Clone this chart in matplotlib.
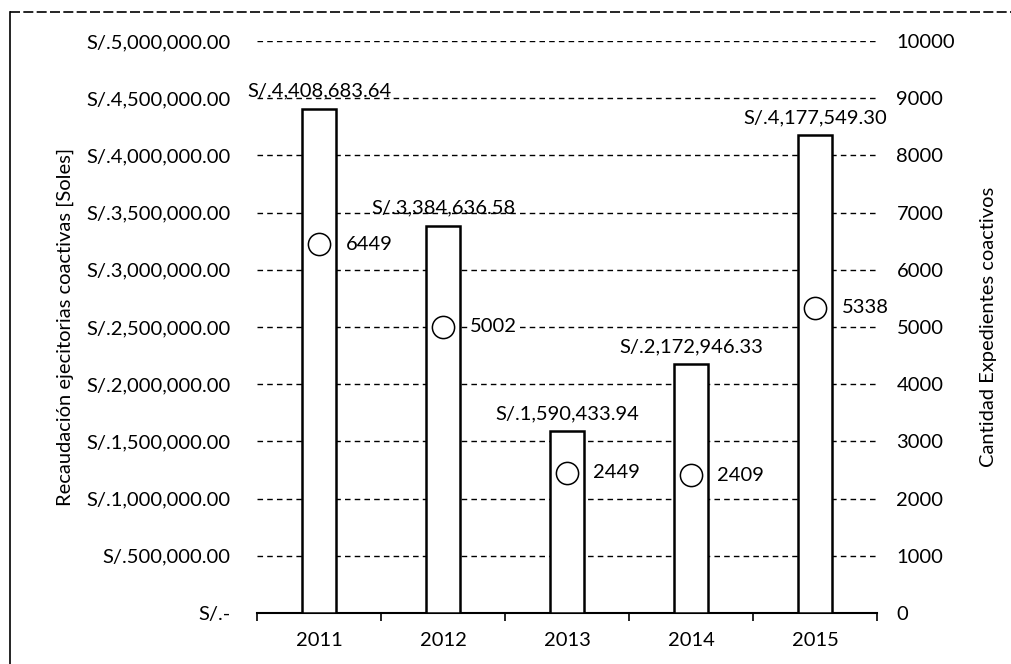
import matplotlib
matplotlib.use("Agg")
import matplotlib.pyplot as plt
from matplotlib.ticker import FuncFormatter, FixedLocator
from matplotlib.lines import Line2D

years = ["2011", "2012", "2013", "2014", "2015"]
recaudacion = [4408683.64, 3384636.58, 1590433.94, 2172946.33, 4177549.30]
expedientes = [6449, 5002, 2449, 2409, 5338]

plt.rcParams['font.family'] = ['Lato', 'DejaVu Sans']
FS = 14.5

fig = plt.figure(figsize=(10.12, 6.64), dpi=100)
fig.patch.set_facecolor('white')
ax = fig.add_axes([0.254, 0.0768, 0.6126, 0.8615])
ax2 = ax.twinx()

x = list(range(len(years)))
ax.bar(x, recaudacion, width=0.27, facecolor='white', edgecolor='black', linewidth=1.8, zorder=3)
ax.set_xlim(-0.5, len(years) - 0.5)
ax.set_ylim(0, 5000000)
ax.set_yticks([i * 500000 for i in range(11)])

def money(v, pos):
    if v == 0:
        return "S/.-"
    return "S/." + f"{v:,.2f}"

ax.yaxis.set_major_formatter(FuncFormatter(money))
ax.grid(axis='y', color='black', linestyle=(0, (4, 3)), linewidth=1.0, zorder=0)
ax.set_axisbelow(True)

for i, v in enumerate(recaudacion):
    ax.text(i, v + 80000, "S/." + f"{v:,.2f}", ha='center', va='bottom', fontsize=FS, zorder=5)

ax.set_xticks(x)
ax.set_xticklabels(years, fontsize=FS)
ax.xaxis.set_minor_locator(FixedLocator([i - 0.5 for i in range(len(years) + 1)]))
ax.tick_params(axis='x', which='major', length=0, pad=14)
ax.tick_params(axis='x', which='minor', length=6, width=1.2, color='black', direction='out')
ax.tick_params(axis='y', length=0, pad=19, labelsize=FS)

for s in ['left', 'right', 'top']:
    ax.spines[s].set_visible(False)
ax.spines['bottom'].set_linewidth(1.5)
for s in ['left', 'right', 'top', 'bottom']:
    ax2.spines[s].set_visible(False)

ax.set_ylabel("Recaudación ejecitorias coactivas [Soles]", fontsize=FS, labelpad=9)

ax2.set_ylim(0, 10000)
ax2.set_yticks([i * 1000 for i in range(11)])
ax2.tick_params(axis='y', length=0, pad=14, labelsize=FS)
ax2.plot(x, expedientes, linestyle='none', marker='o', markersize=16,
         markerfacecolor='white', markeredgecolor='black', markeredgewidth=1.1, zorder=6)
for i, v in enumerate(expedientes):
    ax2.annotate(str(v), (i, v), xytext=(19, 0), textcoords='offset points',
                 ha='left', va='center', fontsize=FS,
                 bbox=dict(facecolor='white', edgecolor='none', pad=1.0))
ax2.set_ylabel("Cantidad Expedientes coactivos", fontsize=FS, labelpad=18)

# scanned frame
fig.add_artist(Line2D([10/1012, 10/1012], [0, 1 - 12/664], transform=fig.transFigure,
                      color='black', linewidth=1.2))
fig.add_artist(Line2D([10/1012, 1.0], [1 - 12/664, 1 - 12/664], transform=fig.transFigure,
                      color='black', linewidth=1.2, linestyle=(0, (6, 2))))

fig.savefig("out.png", dpi=100, facecolor='white')
